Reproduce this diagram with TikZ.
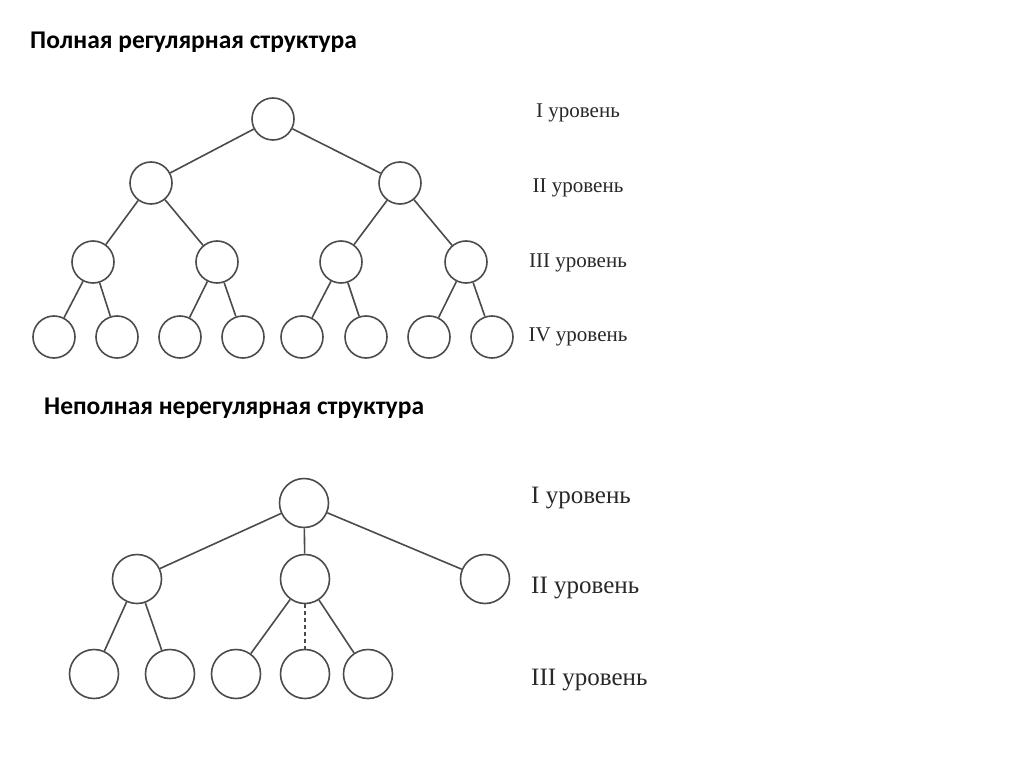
\documentclass[tikz,border=0pt]{standalone}
\usepackage{fontspec}
\setmainfont{Liberation Serif}
\newfontfamily\titlefont{Carlito}
\usepackage{tikz}
\usetikzlibrary{positioning}
\definecolor{linec}{RGB}{75, 75, 75}
\definecolor{textc}{RGB}{40, 40, 40}

\begin{document}
\begin{tikzpicture}[
  x=1pt, y=-1pt,
  vtx/.style={draw=linec, circle, line width=1.6pt, minimum size=42pt, inner sep=0pt},
  bigvtx/.style={draw=linec, circle, line width=1.6pt, minimum size=49pt, inner sep=0pt},
  edge/.style={draw=linec, line width=1.6pt},
  title/.style={font=\titlefont\bfseries\fontsize{25.5}{30}\selectfont, anchor=west, inner sep=0pt},
  lvl/.style={font=\fontsize{21}{25}\selectfont, text=textc, inner sep=0pt},
  biglvl/.style={font=\fontsize{25}{30}\selectfont, text=textc, anchor=west, inner sep=0pt}
]
\useasboundingbox (0,0) rectangle (1024,767);

% full regular structure
\node[title] (head1) at (30,42) {Полная регулярная структура};
\node[vtx] (r) at (273,119) {};
\node[vtx] (a1) at (151,183) {};
\node[vtx] (a2) at (400,183) {};
\node[vtx] (b1) at (93,262) {};
\node[vtx] (b2) at (217,262) {};
\node[vtx] (b3) at (341,262) {};
\node[vtx] (b4) at (466,262) {};
\node[vtx] (c1) at (54,337) {};
\node[vtx] (c2) at (117,337) {};
\node[vtx] (c3) at (180,337) {};
\node[vtx] (c4) at (243,337) {};
\node[vtx] (c5) at (302,337) {};
\node[vtx] (c6) at (366,337) {};
\node[vtx] (c7) at (429,337) {};
\node[vtx] (c8) at (492,337) {};
\draw[edge] (r) -- (a1);
\draw[edge] (r) -- (a2);
\draw[edge] (a1) -- (b1);
\draw[edge] (a1) -- (b2);
\draw[edge] (a2) -- (b3);
\draw[edge] (a2) -- (b4);
\draw[edge] (b1) -- (c1);
\draw[edge] (b1) -- (c2);
\draw[edge] (b2) -- (c3);
\draw[edge] (b2) -- (c4);
\draw[edge] (b3) -- (c5);
\draw[edge] (b3) -- (c6);
\draw[edge] (b4) -- (c7);
\draw[edge] (b4) -- (c8);
\node[lvl] (la1) at (578,113) {I уровень};
\node[lvl] (la2) at (578,188) {II уровень};
\node[lvl] (la3) at (578,263) {III уровень};
\node[lvl] (la4) at (578,337) {IV уровень};

% incomplete irregular structure
\node[title] (head2) at (44,408) {Неполная нерегулярная структура};
\node[bigvtx] (s) at (304,503) {};
\node[bigvtx] (t1) at (137,579) {};
\node[bigvtx] (t2) at (305,579) {};
\node[bigvtx] (t3) at (485,579) {};
\node[bigvtx] (u1) at (94,674) {};
\node[bigvtx] (u2) at (170,674) {};
\node[bigvtx] (u3) at (236,674) {};
\node[bigvtx] (u4) at (305,674) {};
\node[bigvtx] (u5) at (368,674) {};
\draw[edge] (s) -- (t1);
\draw[edge] (s) -- (t2);
\draw[edge] (s) -- (t3);
\draw[edge] (t1) -- (u1);
\draw[edge] (t1) -- (u2);
\draw[edge] (t2) -- (u3);
\draw[edge, dash pattern=on 4pt off 3pt] (t2) -- (u4);
\draw[edge] (t2) -- (u5);
\node[biglvl] (lb1) at (531,498) {I уровень};
\node[biglvl] (lb2) at (531,588) {II уровень};
\node[biglvl] (lb3) at (531,680) {III уровень};
\end{tikzpicture}
\end{document}
